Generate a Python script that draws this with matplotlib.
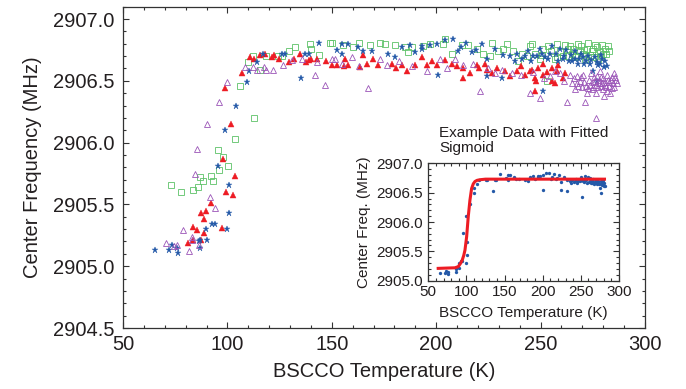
import matplotlib
matplotlib.use("Agg")
import matplotlib.pyplot as plt
from matplotlib.ticker import MultipleLocator

plt.rcParams['font.family'] = ['Liberation Sans', 'DejaVu Sans']

# --- data ---

# green open squares
green_T = [73.0, 77.8, 83.5, 85.9, 86.9, 88.3, 92.1, 93.1, 95.5, 97.9, 96.0, 100.3,
           103.6, 106.0, 112.7, 109.9, 112.3, 115.6, 118.5, 124.2, 126.1, 129.5, 132.4,
           139.6, 140.0, 143.9, 149.1, 150.1, 155.4, 160.2, 168.3, 173.1, 175.5, 185.1,
           188.4, 193.7, 197.0, 203.3, 204.2, 207.6, 212.4, 215.2, 219.5, 222.4, 226.7,
           229.7, 232.0, 236.8, 239.2, 241.1, 244.9, 247.3, 249.7, 251.2, 253.1, 253.6,
           256.9, 259.3, 260.7, 261.7, 264.1, 265.5, 266.5, 267.9, 268.9, 270.3, 271.3,
           272.2, 272.7, 273.7, 275.1, 276.1, 277.5, 278.4, 279.9, 280.8, 282.3,
           258.0, 262.9, 263.0, 265.0, 267.0, 269.5, 270.8, 271.8, 274.4, 275.6, 276.9,
           278.9, 279.4, 281.5, 283.0, 243.5, 246.0, 250.5, 254.8, 257.9, 226.0, 234.0,
           186.5, 163.0, 180.5]
green_f = [2905.66, 2905.60, 2905.62, 2905.64, 2905.72, 2905.69, 2905.73, 2905.69, 2905.94,
           2905.88, 2905.78, 2905.81, 2906.03, 2906.46, 2906.20, 2906.65, 2906.70, 2906.59,
           2906.70, 2906.70, 2906.70, 2906.74, 2906.77, 2906.80, 2906.76, 2906.71, 2906.81,
           2906.81, 2906.79, 2906.77, 2906.79, 2906.81, 2906.80, 2906.77, 2906.77, 2906.78,
           2906.80, 2906.80, 2906.84, 2906.72, 2906.79, 2906.79, 2906.76, 2906.72, 2906.81,
           2906.74, 2906.76, 2906.74, 2906.66, 2906.72, 2906.78, 2906.72, 2906.68, 2906.76,
           2906.50, 2906.78, 2906.68, 2906.73, 2906.70, 2906.79, 2906.78, 2906.76, 2906.69,
           2906.80, 2906.74, 2906.72, 2906.68, 2906.76, 2906.81, 2906.71, 2906.76, 2906.79,
           2906.68, 2906.73, 2906.72, 2906.76, 2906.78,
           2906.80, 2906.70, 2906.76, 2906.72, 2906.70, 2906.78, 2906.75, 2906.70, 2906.74,
           2906.69, 2906.77, 2906.70, 2906.79, 2906.72, 2906.74, 2906.70, 2906.80, 2906.71,
           2906.74, 2906.69, 2906.70, 2906.80, 2906.73, 2906.81, 2906.79]

# blue stars (also the data shown in the inset)
blue_T = [65.3, 72.0, 73.5, 75.9, 76.3, 86.4, 86.9, 86.9, 90.2, 89.8, 92.6, 94.1, 99.8,
          100.8, 100.8, 95.5, 98.9, 104.1, 109.4, 110.3, 114.2, 117.0, 126.1, 127.6,
          135.2, 137.2, 139.1, 143.9, 152.5, 154.9, 154.9, 157.7, 162.5, 164.9, 169.3,
          176.9, 180.2, 187.5, 193.2, 193.2, 200.4, 200.9, 204.2, 208.0, 210.4, 214.2,
          217.1, 221.9, 224.3, 224.3, 228.2, 231.5, 232.0, 235.3, 237.7, 241.1, 244.0,
          246.4, 248.3, 249.7, 250.7, 251.2, 253.6, 255.5, 257.4, 259.3, 260.7, 262.2,
          263.6, 265.0, 266.5, 266.5, 267.9, 269.3, 270.3, 271.7, 273.7, 275.1, 276.1,
          277.0, 277.5, 278.4, 279.4, 280.3,
          238.8, 242.5, 245.2, 252.3, 254.6, 258.2, 261.4, 264.8, 268.4, 270.9, 272.6,
          274.3, 276.8, 278.9, 281.0, 281.6, 183.5, 190.0, 196.8, 212.0, 219.0]
blue_f = [2905.13, 2905.13, 2905.17, 2905.15, 2905.11, 2905.20, 2905.15, 2905.21, 2905.21,
          2905.30, 2905.34, 2905.34, 2905.30, 2905.43, 2905.66, 2905.81, 2906.10, 2906.30,
          2906.49, 2906.58, 2906.65, 2906.72, 2906.72, 2906.72, 2906.52, 2906.72, 2906.72,
          2906.81, 2906.75, 2906.80, 2906.72, 2906.80, 2906.77, 2906.74, 2906.74, 2906.72,
          2906.69, 2906.79, 2906.78, 2906.76, 2906.80, 2906.55, 2906.83, 2906.84, 2906.74,
          2906.81, 2906.73, 2906.80, 2906.68, 2906.54, 2906.76, 2906.52, 2906.71, 2906.70,
          2906.66, 2906.68, 2906.74, 2906.70, 2906.70, 2906.76, 2906.72, 2906.42, 2906.68,
          2906.78, 2906.72, 2906.76, 2906.68, 2906.75, 2906.66, 2906.66, 2906.68, 2906.74,
          2906.64, 2906.72, 2906.69, 2906.66, 2906.64, 2906.58, 2906.69, 2906.50, 2906.63,
          2906.64, 2906.68, 2906.61,
          2906.72, 2906.70, 2906.66, 2906.69, 2906.72, 2906.66, 2906.70, 2906.71, 2906.68,
          2906.64, 2906.70, 2906.67, 2906.65, 2906.71, 2906.66, 2906.62, 2906.77, 2906.73,
          2906.79, 2906.77, 2906.75]

# red filled triangles
red_T = [81.1, 83.5, 87.4, 83.5, 85.4, 88.8, 88.8, 87.4, 89.8, 92.1, 97.4, 99.3, 102.7,
         103.6, 97.9, 101.7, 98.9, 107.0, 110.8, 112.7, 115.6, 121.4, 122.3, 124.7, 129.5,
         134.8, 137.6, 139.1, 140.0, 142.9, 150.1, 152.5, 155.8, 156.3, 157.8, 163.5,
         164.9, 169.7, 172.1, 178.8, 183.6, 186.0, 189.8, 193.2, 195.6, 200.4, 204.2,
         209.9, 212.8, 212.8, 216.2, 219.5, 223.4, 224.3, 229.1, 232.9, 235.3, 238.7,
         244.9, 245.9, 247.3, 247.3, 247.8, 251.0, 251.2, 255.3, 255.5, 256.9, 257.9,
         258.3, 260.7, 261.7,
         240.5, 242.5, 248.8, 253.0, 226.5, 220.5, 207.5, 198.0, 180.8, 167.0, 147.0,
         132.0, 118.0]
red_f = [2905.19, 2905.21, 2905.21, 2905.32, 2905.29, 2905.27, 2905.38, 2905.43, 2905.45,
         2905.51, 2905.31, 2905.60, 2905.58, 2905.73, 2905.87, 2906.15, 2906.44, 2906.56,
         2906.69, 2906.68, 2906.71, 2906.69, 2906.71, 2906.68, 2906.65, 2906.72, 2906.65,
         2906.67, 2906.68, 2906.68, 2906.63, 2906.63, 2906.62, 2906.68, 2906.63, 2906.61,
         2906.71, 2906.68, 2906.63, 2906.64, 2906.63, 2906.58, 2906.63, 2906.69, 2906.63,
         2906.63, 2906.67, 2906.62, 2906.60, 2906.52, 2906.56, 2906.63, 2906.64, 2906.59,
         2906.60, 2906.58, 2906.54, 2906.58, 2906.58, 2906.59, 2906.52, 2906.42, 2906.50,
         2906.64, 2906.55, 2906.60, 2906.50, 2906.48, 2906.58, 2906.63, 2906.52, 2906.56,
         2906.62, 2906.55, 2906.60, 2906.57, 2906.56, 2906.60, 2906.64, 2906.66, 2906.60,
         2906.64, 2906.66, 2906.68, 2906.72]

# purple open triangles
purple_T = [70.6, 74.4, 75.9, 78.7, 83.0, 83.0, 86.4, 81.6, 91.7, 94.1, 84.5, 85.4, 90.2,
            96.0, 99.8, 108.4, 112.3, 114.2, 117.5, 118.5, 121.8, 126.6, 130.9, 135.7,
            142.0, 142.9, 146.7, 150.1, 151.5, 154.9, 159.7, 167.3, 173.1, 176.4, 188.4,
            195.6, 201.8, 209.0, 212.8, 217.6, 221.0, 228.2, 231.5, 236.3, 244.9, 249.7,
            254.5, 259.3, 262.6, 264.1, 264.9, 266.5, 267.4, 267.4, 268.9, 269.8, 270.3,
            271.3, 271.7, 272.2, 273.2, 273.7, 274.1, 274.6, 275.1, 275.6, 276.1, 276.5,
            276.5, 277.0, 277.5, 278.0, 278.4, 278.9, 279.4, 279.9, 280.3, 280.8, 281.3,
            281.8, 282.3, 282.8, 283.2, 283.7, 284.2, 284.7, 285.2, 285.6, 286.6,
            266.0, 268.0, 269.2, 270.8, 272.8, 274.9, 276.7, 277.8, 279.1, 280.0, 281.0,
            282.0, 283.0, 284.0, 285.0, 286.0, 261.0, 257.0, 251.5, 246.5, 240.5, 225.0,
            205.0, 182.0, 163.0]
purple_f = [2905.19, 2905.16, 2905.17, 2905.29, 2905.24, 2905.21, 2905.17, 2905.12, 2905.56,
            2905.47, 2905.75, 2905.95, 2906.15, 2906.33, 2906.49, 2906.61, 2906.61, 2906.59,
            2906.61, 2906.59, 2906.59, 2906.63, 2906.67, 2906.68, 2906.55, 2906.65, 2906.47,
            2906.68, 2906.68, 2906.64, 2906.69, 2906.44, 2906.68, 2906.63, 2906.62, 2906.58,
            2906.68, 2906.68, 2906.63, 2906.64, 2906.42, 2906.56, 2906.59, 2906.56, 2906.40,
            2906.36, 2906.54, 2906.56, 2906.33, 2906.55, 2906.48, 2906.43, 2906.48, 2906.54,
            2906.50, 2906.45, 2906.55, 2906.33, 2906.46, 2906.40, 2906.51, 2906.47, 2906.56,
            2906.43, 2906.45, 2906.53, 2906.50, 2906.20, 2906.40, 2906.54, 2906.45, 2906.48,
            2906.58, 2906.53, 2906.48, 2906.43, 2906.38, 2906.49, 2906.45, 2906.55, 2906.51,
            2906.46, 2906.40, 2906.51, 2906.44, 2906.48, 2906.56, 2906.53, 2906.48,
            2906.52, 2906.46, 2906.53, 2906.49, 2906.44, 2906.49, 2906.47, 2906.51, 2906.46,
            2906.52, 2906.47, 2906.42, 2906.49, 2906.53, 2906.45, 2906.51, 2906.50, 2906.58,
            2906.52, 2906.57, 2906.55, 2906.60, 2906.60, 2906.66, 2906.62]

# fitted sigmoid
fit_T = [63.0, 85.0, 89.3, 92.0, 94.5, 96.5, 98.1, 100.3, 102.4, 104.6, 106.8, 109.0,
         111.2, 114.0, 117.7, 125.0, 281.0]
fit_f = [2905.21, 2905.22, 2905.24, 2905.29, 2905.35, 2905.43, 2905.52, 2905.75, 2906.09,
         2906.37, 2906.57, 2906.65, 2906.69, 2906.71, 2906.72, 2906.73, 2906.73]

txt = '#231f20'
c_green = '#5cc267'
c_blue = '#2459a8'
c_red = '#ed1c24'
c_purple = '#9b55b8'


def style_axes(ax, size, pad_x, pad_y):
    ax.tick_params(which='both', direction='in', top=True, right=True,
                   colors='#333333', labelcolor=txt, labelsize=size, width=0.8)
    ax.tick_params(which='major', length=4)
    ax.tick_params(which='minor', length=2)
    ax.tick_params(axis='x', pad=pad_x)
    ax.tick_params(axis='y', pad=pad_y)
    for s in ax.spines.values():
        s.set_linewidth(0.9)
        s.set_color('#333333')


fig = plt.figure(figsize=(6.86, 3.89), dpi=100)
ax = fig.add_axes([0.1793, 0.1568, 0.7609, 0.826])

ax.plot(green_T, green_f, linestyle='none', marker='s', markersize=4.2,
        markerfacecolor='none', markeredgecolor=c_green, markeredgewidth=0.6)
ax.plot(red_T, red_f, linestyle='none', marker='^', markersize=4.3,
        color=c_red, markeredgewidth=0.3)
ax.plot(blue_T, blue_f, linestyle='none', marker='*', markersize=4.5,
        color=c_blue, markeredgewidth=0.3)
ax.plot(purple_T, purple_f, linestyle='none', marker='^', markersize=4.3,
        markerfacecolor='none', markeredgecolor=c_purple, markeredgewidth=0.6)

ax.set_xlim(50, 300)
ax.set_ylim(2904.5, 2907.1)
ax.xaxis.set_major_locator(MultipleLocator(50))
ax.xaxis.set_minor_locator(MultipleLocator(10))
ax.yaxis.set_major_locator(MultipleLocator(0.5))
ax.yaxis.set_minor_locator(MultipleLocator(0.1))
ax.yaxis.set_major_formatter(matplotlib.ticker.FormatStrFormatter('%.1f'))
style_axes(ax, 14.5, 5, 6)
ax.set_xlabel('BSCCO Temperature (K)', fontsize=14.5, color=txt, labelpad=6)
ax.set_ylabel('Center Frequency (MHz)', fontsize=14.5, color=txt, labelpad=8)

# --- inset ---
axi = fig.add_axes([0.6243, 0.2784, 0.278, 0.3018])
axi.plot(blue_T, blue_f, linestyle='none', marker='o', markersize=2.4,
         color=c_blue, markeredgewidth=0)
axi.plot(fit_T, fit_f, color=c_red, linewidth=2.2)
axi.set_xlim(50, 300)
axi.set_ylim(2905.0, 2907.0)
axi.xaxis.set_major_locator(MultipleLocator(50))
axi.xaxis.set_minor_locator(MultipleLocator(10))
axi.yaxis.set_major_locator(MultipleLocator(0.5))
axi.yaxis.set_minor_locator(MultipleLocator(0.1))
axi.yaxis.set_major_formatter(matplotlib.ticker.FormatStrFormatter('%.1f'))
style_axes(axi, 11, 3, 4)
axi.set_xlabel('BSCCO Temperature (K)', fontsize=11, color=txt, labelpad=5)
axi.set_ylabel('Center Freq. (MHz)', fontsize=11, color=txt, labelpad=4)

fig.text(439 / 686, 1 - 126 / 389, 'Example Data with Fitted\nSigmoid',
         ha='left', va='top', fontsize=11, color=txt, linespacing=1.1)

fig.savefig('out.png', dpi=100)
